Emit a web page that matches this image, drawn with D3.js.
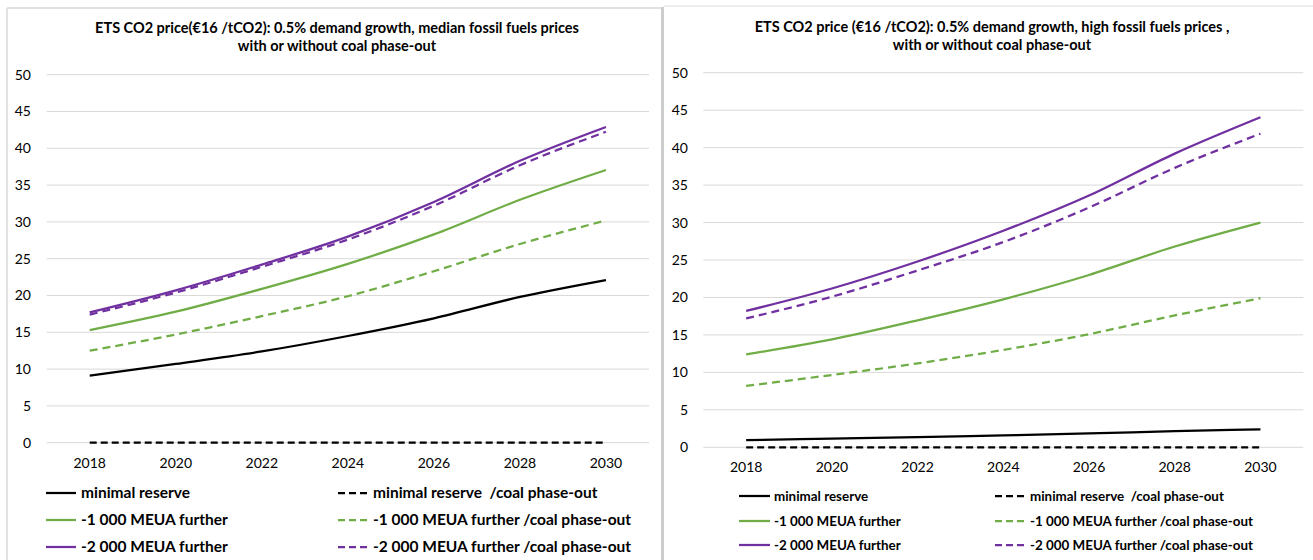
<!DOCTYPE html>
<html>
<head>
<meta charset="utf-8">
<script src="https://cdn.jsdelivr.net/npm/d3@7/dist/d3.min.js"></script>
<style>
  html, body { margin: 0; padding: 0; background: #fff; }
  svg { display: block; }
  text { font-family: Lato, "Open Sans", sans-serif; fill: #000; }
</style>
</head>
<body>
<svg id="chart" width="1313" height="560"></svg>
<script>
// ---------- DATA ----------
const years = ["2018", "2020", "2022", "2024", "2026", "2028", "2030"];
const yTicks = [0, 5, 10, 15, 20, 25, 30, 35, 40, 45, 50];

const seriesNames = [
  "minimal reserve",
  "minimal reserve  /coal phase-out",
  "-1 000 MEUA further",
  "-1 000 MEUA further /coal phase-out",
  "-2 000 MEUA further",
  "-2 000 MEUA further /coal phase-out"
];

const titleLeft = ["ETS CO2 price(€16 /tCO2): 0.5% demand growth, median fossil fuels prices",
                   "with or without coal phase-out"];
const titleRight = ["ETS CO2 price (€16 /tCO2): 0.5% demand growth, high fossil fuels prices ,",
                    "with or without coal phase-out"];

// Median fossil fuel prices (left)
const medMinimal      = [9.1, 10.7, 12.4, 14.5, 16.9, 19.8, 22.1];
const medMinimalCoal  = [0, 0, 0, 0, 0, 0, 0];
const med1000         = [15.3, 17.8, 20.9, 24.3, 28.3, 33.0, 37.05];
const med1000Coal     = [12.5, 14.7, 17.2, 19.9, 23.3, 27.0, 30.2];
const med2000         = [17.7, 20.7, 24.2, 28.0, 32.7, 38.3, 42.9];
const med2000Coal     = [17.4, 20.4, 23.9, 27.6, 32.2, 37.7, 42.25];

// High fossil fuel prices (right)
const highMinimal     = [0.97, 1.15, 1.35, 1.6, 1.85, 2.15, 2.4];
const highMinimalCoal = [0, 0, 0, 0, 0, 0, 0];
const high1000        = [12.4, 14.4, 16.95, 19.75, 23.0, 26.8, 30.0];
const high1000Coal    = [8.2, 9.65, 11.2, 13.0, 15.1, 17.6, 19.9];
const high2000        = [18.2, 21.2, 24.8, 28.9, 33.6, 39.2, 44.05];
const high2000Coal    = [17.2, 20.1, 23.6, 27.4, 32.0, 37.3, 41.85];

// ---------- STYLES ----------
const styles = [
  { color: "#000000", dash: null },
  { color: "#000000", dash: "7,4" },
  { color: "#70AD47", dash: null },
  { color: "#70AD47", dash: "8,5" },
  { color: "#7030A0", dash: null },
  { color: "#7030A0", dash: "8,5" }
];

const svg = d3.select("#chart");

// Panel frames
svg.append("line").attr("x1", 7).attr("x2", 662).attr("y1", 8).attr("y2", 8)
  .attr("stroke", "#c4c4c4").attr("stroke-width", 1.2);
svg.append("line").attr("x1", 7).attr("x2", 7).attr("y1", 8).attr("y2", 560)
  .attr("stroke", "#cfcfcf").attr("stroke-width", 1.2);
svg.append("rect").attr("x", 661).attr("y", 7).attr("width", 3).attr("height", 553)
  .attr("fill", "#cdcdcd");
svg.append("line").attr("x1", 664).attr("x2", 1313).attr("y1", 6).attr("y2", 6)
  .attr("stroke", "#dcdcdc").attr("stroke-width", 1.2);

function drawPanel(cfg) {
  const g = svg.append("g");
  const x = d3.scaleBand().domain(years).range([cfg.x0, cfg.x1]);
  const y = d3.scaleLinear().domain([0, 50]).range([cfg.yBottom, cfg.yTop]);

  // Title
  cfg.title.forEach((t, i) => {
    g.append("text").attr("x", cfg.titleX).attr("y", cfg.titleY + i * 18)
      .attr("text-anchor", "middle").attr("font-size", 14.5).attr("font-weight", "bold")
      .text(t);
  });

  // Gridlines
  g.selectAll(".grid").data(yTicks).enter().append("line")
    .attr("x1", cfg.x0).attr("x2", cfg.x1)
    .attr("y1", d => y(d)).attr("y2", d => y(d))
    .attr("stroke", "#d9d9d9").attr("stroke-width", 1);

  // Y axis labels
  const yAxis = d3.axisLeft(y).tickValues(yTicks).tickSize(0).tickPadding(0);
  const ya = g.append("g").attr("transform", `translate(${cfg.yLabelX},0)`).call(yAxis);
  ya.select(".domain").remove();
  ya.selectAll("text").attr("font-size", 14).attr("font-family", "Lato, sans-serif").attr("fill", "#000");

  // X axis labels
  const xAxis = d3.axisBottom(x).tickSize(0).tickPadding(0);
  const xa = g.append("g").attr("transform", `translate(0,${cfg.xLabelY})`).call(xAxis);
  xa.select(".domain").remove();
  xa.selectAll("text").attr("font-size", 14).attr("font-family", "Lato, sans-serif").attr("fill", "#000");

  // Lines
  const line = d3.line()
    .x((d, i) => x(years[i]) + x.bandwidth() / 2)
    .y(d => y(d))
    .curve(d3.curveMonotoneX);

  const order = [1, 0, 3, 2, 5, 4];
  order.forEach(k => {
    g.append("path").datum(cfg.data[k])
      .attr("d", line)
      .attr("fill", "none")
      .attr("stroke", styles[k].color)
      .attr("stroke-width", 2.25)
      .attr("stroke-dasharray", styles[k].dash)
      .attr("stroke-linecap", "butt");
  });

  // Legend
  seriesNames.forEach((name, k) => {
    const col = k % 2, row = Math.floor(k / 2);
    const lx = cfg.legCols[col];
    const ly = cfg.legRows[row];
    g.append("line")
      .attr("x1", lx).attr("x2", lx + cfg.legLineW)
      .attr("y1", ly).attr("y2", ly)
      .attr("stroke", styles[k].color).attr("stroke-width", 2.25)
      .attr("stroke-dasharray", styles[k].dash ? "7,4" : null);
    g.append("text")
      .attr("x", lx + cfg.legLineW + cfg.legGap).attr("y", ly)
      .attr("dy", "0.35em")
      .attr("font-size", cfg.legFont).attr("font-weight", "bold")
      .attr("xml:space", "preserve")
      .text(name);
  });
}

drawPanel({
  x0: 46.7, x1: 649, yTop: 74.7, yBottom: 442.7,
  yLabelX: 31, xLabelY: 458,
  title: titleLeft, titleX: 337, titleY: 33,
  data: [medMinimal, medMinimalCoal, med1000, med1000Coal, med2000, med2000Coal],
  legCols: [46, 338], legRows: [493, 520, 547], legLineW: 30, legGap: 5, legFont: 15.5
});

drawPanel({
  x0: 703.3, x1: 1303.3, yTop: 72.7, yBottom: 447.3,
  yLabelX: 688, xLabelY: 462,
  title: titleRight, titleX: 992, titleY: 32,
  data: [highMinimal, highMinimalCoal, high1000, high1000Coal, high2000, high2000Coal],
  legCols: [739, 995], legRows: [496, 521, 545], legLineW: 31, legGap: 4, legFont: 13.4
});
</script>
</body>
</html>
